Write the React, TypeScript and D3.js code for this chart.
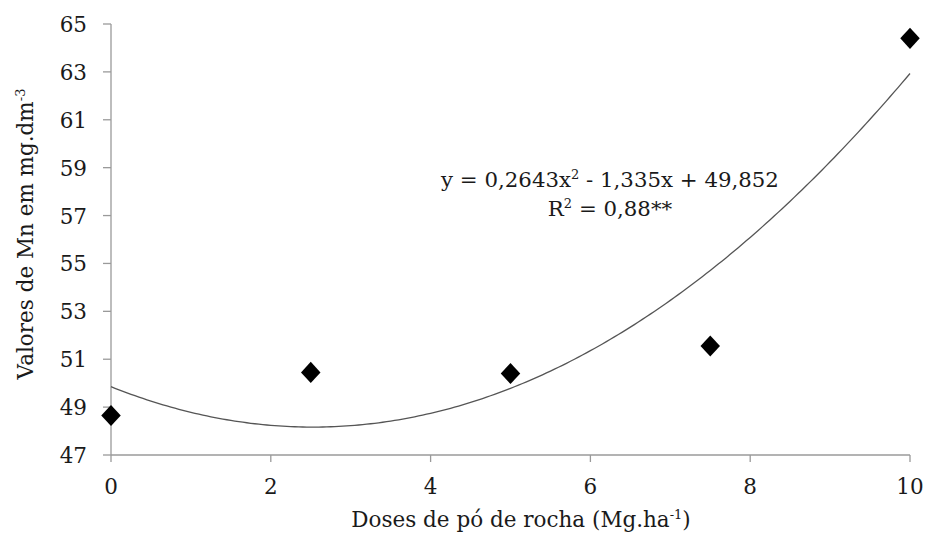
import { line, range, scaleLinear, symbol } from 'd3'
import type { SymbolType } from 'd3'

const doses = [0, 2.5, 5, 7.5, 10]
const mnValues = [48.65, 50.45, 50.4, 51.55, 64.4]
const xTicks = [0, 2, 4, 6, 8, 10]
const yTicks = [47, 49, 51, 53, 55, 57, 59, 61, 63, 65]
const coefficients = [0.2643, -1.335, 49.852]

const WIDTH = 925
const HEIGHT = 536
// Liberation Serif does not resolve in the sandbox, DejaVu Serif does
const FONT = "'DejaVu Serif', serif"
const AXIS_COLOR = '#9a9a9a'
const TEXT_COLOR = '#1a1a1a'
const FONT_SIZE = 21.5

const x = scaleLinear().domain([0, 10]).range([111, 910])
const y = scaleLinear().domain([47, 65]).range([455, 24])

const fit = (v: number) => coefficients[0] * v * v + coefficients[1] * v + coefficients[2]

// square diamond (d3's symbolDiamond is too narrow)
const squareDiamond: SymbolType = {
  draw(context, size) {
    const r = Math.sqrt(size / 2)
    context.moveTo(0, -r * 1.08)
    context.lineTo(r, 0)
    context.lineTo(0, r * 1.08)
    context.lineTo(-r, 0)
    context.closePath()
  },
}

export default function App() {
  const curve = line<number>()
    .x((d) => x(d))
    .y((d) => y(fit(d)))(range(0, 10.001, 0.05))
  const diamond = symbol().type(squareDiamond).size(190)()

  return (
    <svg
      width={WIDTH}
      height={HEIGHT}
      fontFamily={FONT}
      style={{ position: 'absolute', left: 0, top: 0, background: '#fff' }}
    >
      {/* axes */}
      <line x1={x(0)} x2={x(0)} y1={y(65)} y2={y(47)} stroke={AXIS_COLOR} strokeWidth={1.3} />
      <line x1={x(0)} x2={x(10)} y1={y(47)} y2={y(47)} stroke={AXIS_COLOR} strokeWidth={1.3} />
      {yTicks.map((t) => (
        <g key={`y${t}`}>
          <line x1={x(0) - 8} x2={x(0)} y1={y(t)} y2={y(t)} stroke={AXIS_COLOR} strokeWidth={1.3} />
          <text x={x(0) - 24} y={y(t) + 8} textAnchor="end" fontSize={FONT_SIZE} fill={TEXT_COLOR}>
            {t}
          </text>
        </g>
      ))}
      {xTicks.map((t) => (
        <g key={`x${t}`}>
          <line x1={x(t)} x2={x(t)} y1={y(47)} y2={y(47) + 7} stroke={AXIS_COLOR} strokeWidth={1.3} />
          <text x={x(t)} y={y(47) + 39} textAnchor="middle" fontSize={FONT_SIZE} fill={TEXT_COLOR}>
            {t}
          </text>
        </g>
      ))}

      {/* fitted curve */}
      <path d={curve ?? ''} fill="none" stroke="#555" strokeWidth={1.3} />

      {/* observed points */}
      {doses.map((d, i) => (
        <path key={d} d={diamond ?? ''} transform={`translate(${x(d)},${y(mnValues[i])})`} fill="#000" />
      ))}

      {/* equation */}
      <text x={610} y={187} textAnchor="middle" fontSize={21.3} fill={TEXT_COLOR}>
        y = 0,2643x<tspan dy={-8} fontSize={13}>2</tspan>
        <tspan dy={8}> - 1,335x + 49,852</tspan>
      </text>
      <text x={610} y={216} textAnchor="middle" fontSize={21.3} fill={TEXT_COLOR}>
        R<tspan dy={-8} fontSize={13}>2</tspan>
        <tspan dy={8}> = 0,88**</tspan>
      </text>

      {/* axis titles */}
      <text
        transform="translate(33,234) rotate(-90)"
        textAnchor="middle"
        fontSize={FONT_SIZE}
        fill={TEXT_COLOR}
      >
        Valores de Mn em mg.dm<tspan dy={-8} fontSize={13}>-3</tspan>
      </text>
      <text x={521} y={527} textAnchor="middle" fontSize={FONT_SIZE} fill={TEXT_COLOR}>
        Doses de pó de rocha (Mg.ha<tspan dy={-8} fontSize={13}>-1</tspan>
        <tspan dy={8}>)</tspan>
      </text>
    </svg>
  )
}
